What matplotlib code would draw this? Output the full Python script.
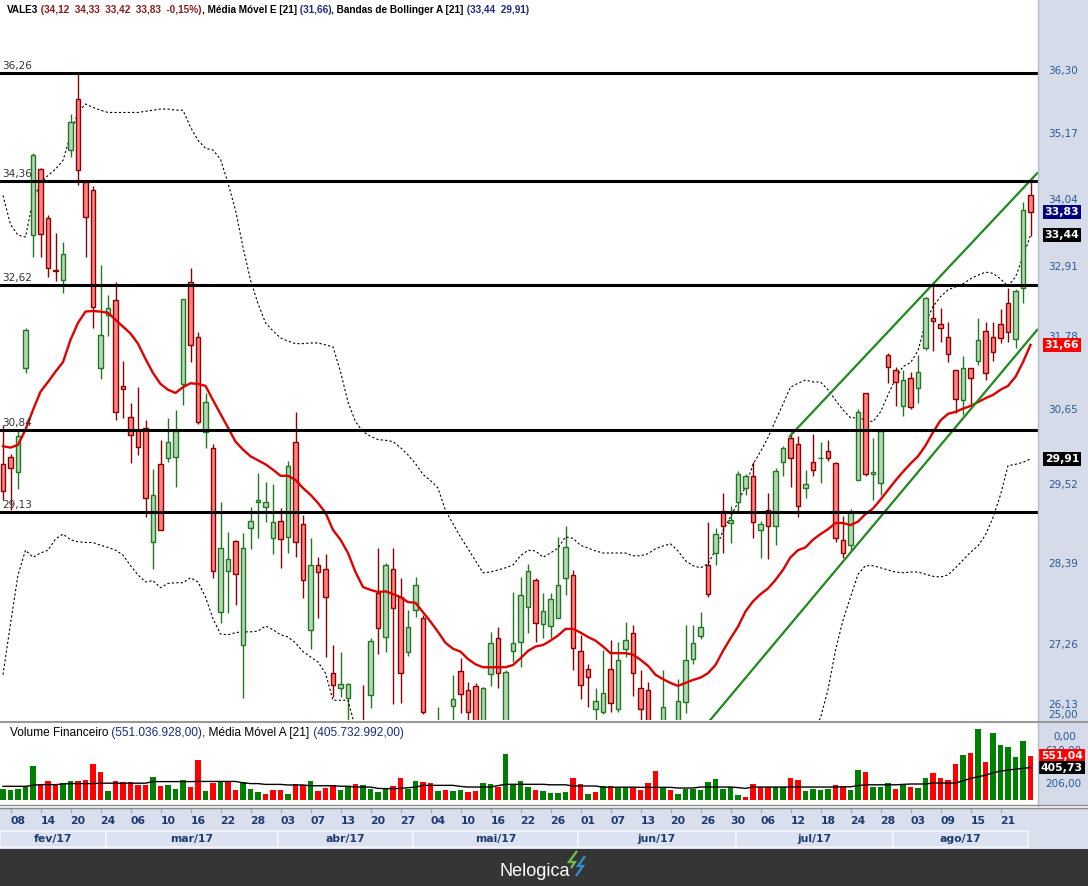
import numpy as np
import matplotlib
matplotlib.use("Agg")
import matplotlib.pyplot as plt
from matplotlib.patches import Rectangle, Polygon
from matplotlib.lines import Line2D
import matplotlib.transforms as mtransforms

nan = float("nan")

# -----------------------------
# dados (VALE3, diário, 06/fev/17 a 24/ago/17)
# -----------------------------
opens = [29.83, 29.94, 29.72, 31.29, 33.44, 34.56, 33.72, 32.86, 32.70, 34.89,
         35.79, 34.33, 34.20, 31.30, 32.13, 32.38, 31.02, 30.54, 30.35, 30.38,
         28.69, 29.84, 29.93, 29.94, 31.05, 32.67, 31.79, 30.32, 30.07, 27.71,
         28.29, 28.71, 27.26, 28.90, 29.28, 29.20, 28.76, 29.00, 28.77, 30.17,
         28.95, 27.47, 28.37, 28.31, 26.88, 26.68, 26.55, 26.20, 26.22, 26.59,
         27.97, 27.37, 28.31, 27.92, 27.16, 27.74, 27.63, 26.20, 25.95, 26.15,
         26.44, 26.91, 26.66, 26.71, 26.15, 26.87, 27.36, 26.15, 27.18, 27.30,
         27.78, 28.16, 27.55, 27.52, 27.63, 28.19, 28.23, 27.18, 26.93, 26.40,
         26.37, 26.93, 26.40, 27.21, 27.43, 26.68, 26.66, 26.15, 26.00, 26.20,
         26.00, 26.50, 27.07, 27.38, 28.37, 28.54, 29.15, 28.97, 29.28, 29.48,
         29.65, 28.87, 29.16, 28.93, 29.87, 30.22, 30.13, 29.48, 29.87, 29.93,
         30.03, 29.85, 28.73, 28.65, 29.60, 30.91, 29.69, 29.56, 31.50, 31.26,
         30.71, 31.14, 30.99, 31.61, 32.09, 31.99, 31.79, 31.27, 30.80, 31.30,
         31.41, 31.88, 31.79, 31.99, 32.33, 31.76, 32.57, 34.12]
highs = [30.42, 29.99, 30.35, 31.93, 34.83, 34.58, 33.77, 33.47, 33.33, 35.52,
         36.26, 34.37, 34.27, 32.95, 32.46, 32.67, 31.41, 30.76, 31.00, 30.50,
         29.76, 30.19, 30.53, 30.65, 32.40, 32.89, 31.87, 30.91, 30.14, 29.28,
         28.84, 28.73, 28.83, 29.20, 29.70, 29.57, 29.54, 29.19, 29.88, 30.62,
         29.09, 28.76, 28.49, 28.52, 27.26, 27.17, 26.75, 26.24, 26.72, 27.35,
         28.61, 28.40, 28.61, 28.19, 27.74, 28.20, 27.67, 26.24, 26.43, 26.22,
         26.85, 27.09, 26.76, 26.75, 26.70, 27.44, 27.51, 26.92, 27.99, 28.20,
         28.38, 28.19, 27.97, 27.98, 28.77, 28.93, 28.30, 27.40, 27.01, 26.68,
         27.19, 27.33, 27.30, 27.58, 27.53, 26.92, 26.76, 26.20, 26.92, 26.24,
         26.80, 27.53, 27.53, 27.71, 28.98, 28.90, 29.40, 29.21, 29.73, 29.68,
         29.87, 29.00, 29.40, 29.78, 30.11, 30.31, 30.26, 29.75, 30.29, 30.16,
         30.19, 29.86, 29.07, 29.18, 30.66, 30.91, 30.23, 30.33, 31.53, 31.32,
         31.26, 31.24, 31.50, 32.43, 32.64, 32.25, 32.03, 31.27, 31.48, 31.30,
         32.08, 32.03, 32.03, 32.23, 32.57, 32.55, 34.00, 34.33]
lows = [29.31, 29.16, 29.47, 31.22, 33.08, 33.08, 32.75, 32.68, 32.49, 34.77,
        34.28, 33.08, 31.92, 31.13, 31.80, 30.50, 30.53, 29.85, 29.97, 29.05,
        28.31, 28.87, 29.87, 29.50, 30.73, 31.39, 30.44, 30.08, 28.19, 27.56,
        27.70, 27.81, 26.55, 28.60, 28.76, 28.98, 28.52, 28.33, 28.54, 28.49,
        27.91, 27.20, 27.63, 27.10, 26.56, 26.56, 26.20, 25.90, 25.95, 26.42,
        27.14, 27.16, 26.47, 26.49, 27.11, 27.64, 26.34, 25.85, 25.85, 25.90,
        26.20, 26.35, 26.23, 26.00, 26.00, 26.71, 26.68, 26.00, 27.03, 26.96,
        27.43, 27.30, 27.36, 27.36, 27.63, 27.95, 26.92, 26.53, 26.43, 26.20,
        26.34, 26.37, 26.37, 27.10, 26.57, 26.20, 25.95, 25.60, 25.90, 25.90,
        25.90, 26.35, 27.01, 27.34, 27.92, 28.37, 28.54, 28.68, 29.12, 29.38,
        28.76, 28.47, 28.45, 28.65, 29.66, 29.50, 29.05, 29.34, 29.66, 29.56,
        29.88, 28.69, 28.47, 28.58, 29.60, 29.66, 29.31, 29.38, 31.07, 30.71,
        30.55, 30.67, 30.76, 31.58, 31.56, 31.71, 31.39, 30.61, 30.58, 30.74,
        31.34, 31.11, 31.41, 31.69, 31.71, 31.61, 32.33, 33.42]
closes = [29.43, 29.78, 30.25, 31.90, 34.80, 33.46, 32.89, 32.85, 33.13, 35.38,
          34.55, 33.74, 32.27, 31.82, 32.25, 30.62, 30.97, 30.27, 30.09, 29.33,
          29.37, 28.87, 30.17, 30.33, 32.40, 31.66, 30.47, 30.77, 28.29, 28.61,
          28.46, 28.24, 28.61, 29.00, 29.30, 29.28, 28.99, 28.74, 29.81, 28.69,
          28.16, 28.37, 28.27, 27.92, 26.72, 26.73, 26.74, 26.05, 26.10, 27.31,
          27.49, 28.37, 27.77, 26.88, 27.51, 28.09, 26.37, 25.95, 26.15, 26.00,
          26.54, 26.60, 26.37, 26.15, 26.68, 27.29, 26.88, 26.89, 27.29, 27.95,
          28.29, 27.56, 27.73, 27.89, 28.09, 28.62, 27.22, 26.72, 26.83, 26.51,
          26.62, 26.49, 27.06, 27.33, 26.88, 26.41, 26.10, 25.80, 26.43, 26.05,
          26.51, 27.06, 27.29, 27.51, 27.96, 28.81, 28.93, 29.02, 29.68, 29.65,
          28.98, 28.95, 28.93, 29.73, 30.07, 29.93, 29.21, 29.54, 29.74, 29.93,
          29.93, 28.76, 28.54, 29.13, 30.62, 29.69, 29.72, 30.33, 31.32, 31.08,
          31.11, 30.70, 31.24, 32.41, 32.04, 31.93, 31.52, 30.82, 31.30, 31.14,
          31.73, 31.22, 31.55, 31.77, 31.87, 32.52, 33.86, 33.83]

# média móvel exponencial 21
ema21 = [30.10, 30.08, 30.12, 30.35, 30.65, 30.93, 31.08, 31.24, 31.39, 31.74,
         32.01, 32.19, 32.20, 32.19, 32.17, 32.06, 31.95, 31.84, 31.68, 31.44,
         31.22, 31.05, 30.96, 30.91, 31.00, 31.06, 31.05, 31.02, 30.80, 30.59,
         30.38, 30.17, 30.05, 29.95, 29.89, 29.83, 29.75, 29.66, 29.66, 29.60,
         29.48, 29.38, 29.26, 29.12, 28.87, 28.73, 28.54, 28.27, 28.06, 28.02,
         27.99, 28.00, 27.96, 27.92, 27.85, 27.84, 27.71, 27.58, 27.44, 27.29,
         27.21, 27.17, 27.07, 27.00, 26.96, 26.96, 26.96, 26.96, 26.99, 27.08,
         27.18, 27.24, 27.26, 27.32, 27.39, 27.48, 27.48, 27.43, 27.37, 27.32,
         27.24, 27.15, 27.15, 27.15, 27.13, 27.06, 26.98, 26.86, 26.80, 26.75,
         26.71, 26.75, 26.79, 26.82, 26.88, 26.99, 27.18, 27.35, 27.51, 27.72,
         27.86, 27.96, 28.04, 28.16, 28.30, 28.48, 28.58, 28.62, 28.73, 28.81,
         28.88, 28.97, 28.97, 28.94, 28.99, 29.10, 29.18, 29.31, 29.45, 29.59,
         29.72, 29.84, 29.95, 30.11, 30.31, 30.49, 30.59, 30.62, 30.67, 30.71,
         30.77, 30.83, 30.88, 30.96, 31.02, 31.16, 31.39, 31.66]

# bandas de Bollinger 21
bb_upper = [34.11, 33.62, 33.44, 33.41, 34.03, 34.32, 34.45, 34.56, 34.71, 35.15,
            35.55, 35.70, 35.64, 35.59, 35.55, 35.55, 35.55, 35.55, 35.55, 35.57,
            35.59, 35.61, 35.61, 35.59, 35.59, 35.29, 35.06, 34.92, 34.89, 34.73,
            34.32, 33.86, 33.24, 32.70, 32.32, 32.01, 31.88, 31.77, 31.72, 31.68,
            31.68, 31.69, 31.69, 31.66, 31.63, 31.24, 30.77, 30.47, 30.32, 30.25,
            30.20, 30.19, 30.17, 30.08, 29.97, 29.84, 29.68, 29.59, 29.48, 29.15,
            28.96, 28.77, 28.60, 28.43, 28.26, 28.27, 28.30, 28.33, 28.37, 28.50,
            28.58, 28.57, 28.48, 28.54, 28.61, 28.77, 28.75, 28.65, 28.61, 28.57,
            28.54, 28.54, 28.54, 28.54, 28.50, 28.50, 28.53, 28.60, 28.64, 28.67,
            28.57, 28.43, 28.36, 28.33, 28.39, 28.58, 28.86, 29.06, 29.27, 29.50,
            29.83, 30.02, 30.23, 30.49, 30.74, 31.00, 31.06, 31.11, 31.08, 31.08,
            30.96, 30.80, 30.65, 30.53, 30.53, 30.50, 30.47, 30.62, 30.88, 31.13,
            31.32, 31.38, 31.57, 32.01, 32.27, 32.43, 32.54, 32.59, 32.64, 32.72,
            32.78, 32.83, 32.81, 32.72, 32.60, 32.75, 33.08, 33.44]
bb_lower = [26.86, 27.55, 28.23, 28.58, 28.48, 28.54, 28.58, 28.74, 28.81, 28.73,
            28.70, 28.69, 28.69, 28.65, 28.62, 28.58, 28.51, 28.36, 28.23, 28.13,
            28.15, 28.05, 28.11, 28.12, 28.12, 28.19, 28.13, 27.92, 27.62, 27.41,
            27.40, 27.43, 27.44, 27.44, 27.45, 27.52, 27.47, 27.40, 27.37, 27.29,
            27.17, 27.10, 27.03, 26.88, 26.52, 26.52, 26.52, 26.15, nan, nan,
            nan, nan, nan, nan, nan, nan, nan, nan, nan, nan,
            nan, nan, nan, nan, nan, nan, nan, nan, nan, nan,
            nan, nan, nan, nan, nan, nan, nan, nan, nan, nan,
            nan, nan, nan, nan, nan, nan, nan, nan, nan, nan,
            nan, nan, nan, nan, nan, nan, nan, nan, nan, nan,
            nan, nan, nan, nan, nan, nan, nan, nan, 26.10, 26.29,
            26.66, 27.19, 27.60, 27.92, 28.24, 28.36, 28.36, 28.33, 28.30, 28.27,
            28.26, 28.27, 28.27, 28.24, 28.21, 28.20, 28.23, 28.33, 28.44, 28.55,
            28.64, 28.80, 29.05, 29.38, 29.81, 29.83, 29.86, 29.91]

# volume financeiro (milhões de R$) e média móvel aritmética 21
volume = [141, 129, 141, 171, 425, 183, 237, 196, 212, 237,
          237, 254, 454, 350, 112, 237, 225, 225, 192, 192,
          287, 175, 192, 142, 250, 162, 496, 112, 212, 233,
          233, 129, 221, 142, 100, 79, 125, 125, 75, 200,
          183, 233, 112, 150, 187, 125, 166, 204, 192, 142,
          100, 142, 175, 275, 142, 237, 225, 212, 112, 125,
          112, 125, 100, 112, 212, 204, 158, 575, 183, 237,
          162, 125, 112, 88, 92, 100, 275, 204, 75, 100,
          175, 175, 150, 150, 150, 125, 212, 362, 162, 125,
          75, 142, 142, 129, 222, 267, 142, 158, 67, 37,
          204, 158, 158, 158, 158, 275, 254, 112, 142, 129,
          142, 192, 158, 125, 379, 350, 162, 162, 212, 142,
          200, 167, 150, 275, 342, 275, 254, 450, 567, 587,
          892, 475, 842, 692, 667, 542, 737, 551.04]
vol_up = [1, 1, 1, 1, 1, 0, 0, 0, 1, 1,
          0, 0, 0, 0, 1, 0, 0, 0, 0, 0,
          1, 0, 1, 1, 1, 0, 0, 1, 0, 1,
          0, 0, 1, 1, 1, 0, 0, 0, 1, 0,
          0, 1, 0, 0, 0, 1, 1, 0, 1, 1,
          1, 1, 0, 0, 1, 1, 0, 0, 1, 0,
          1, 1, 0, 0, 1, 1, 0, 1, 1, 1,
          1, 0, 1, 1, 1, 1, 0, 0, 1, 0,
          1, 0, 1, 1, 0, 0, 0, 0, 1, 0,
          1, 1, 1, 1, 1, 1, 1, 1, 1, 0,
          0, 0, 0, 1, 1, 0, 0, 1, 1, 1,
          1, 0, 0, 1, 1, 0, 1, 1, 1, 0,
          1, 0, 1, 1, 0, 0, 0, 0, 1, 0,
          1, 0, 1, 1, 1, 1, 1, 0]
vol_ma = [171, 171, 171, 171, 185, 192, 192, 192, 200, 205,
          205, 205, 205, 210, 210, 210, 210, 210, 210, 210,
          230, 230, 230, 230, 230, 230, 232, 232, 232, 232,
          232, 232, 215, 205, 205, 195, 195, 195, 188, 188,
          188, 178, 178, 178, 178, 172, 172, 162, 162, 162,
          145, 142, 142, 145, 154, 160, 183, 183, 183, 183,
          183, 170, 162, 162, 162, 162, 180, 196, 196, 196,
          196, 196, 196, 190, 190, 190, 175, 175, 175, 175,
          160, 160, 160, 160, 160, 158, 158, 158, 158, 158,
          150, 150, 150, 162, 162, 162, 162, 162, 155, 145,
          162, 162, 162, 162, 162, 162, 162, 162, 162, 162,
          162, 162, 165, 165, 180, 190, 190, 190, 190, 190,
          195, 200, 200, 200, 212, 212, 212, 212, 240, 270,
          290, 310, 340, 360, 375, 385, 395, 405.73]

# linhas horizontais (suporte/resistência) e canal de alta
level_values = [36.26, 34.36, 32.62, 30.35, 29.13]
level_labels = ["36,26", "34,36", "32,62", "30,84", "29,13"]
channel_top = ([104.9, 137.9], [30.25, 34.49])
channel_bottom = ([94.3, 137.9], [26.26, 31.90])

price_ticks = [36.30, 35.17, 34.04, 32.91, 31.78, 30.65, 29.52, 28.39, 27.26]

day_labels = ["08", "14", "20", "24", "06", "10", "16", "22", "28", "03", "07", "13",
              "20", "27", "04", "10", "16", "22", "26", "01", "07", "13", "20", "26",
              "30", "06", "12", "18", "24", "28", "03", "09", "15", "21"]
day_index = [2 + 4 * k for k in range(len(day_labels))]
month_labels = ["fev/17", "mar/17", "abr/17", "mai/17", "jun/17", "jul/17", "ago/17"]
month_starts = [0, 15, 38, 56, 78, 99, 120, 138]

# -----------------------------
# figura
# -----------------------------
W, H = 1088, 886
fig = plt.figure(figsize=(W / 100, H / 100), dpi=100)
fig.patch.set_facecolor("white")

BLUE_LBL = "#2a5a98"
PANEL = "#d6dbe9"


def px_axes(x0, y0, x1, y1):
    a = fig.add_axes([x0 / W, 1 - y1 / H, (x1 - x0) / W, (y1 - y0) / H])
    a.axis("off")
    return a


def fig_rect(x0, y0, x1, y1, color, z=-1, ec="none", lw=0):
    fig.add_artist(Rectangle((x0 / W, 1 - y1 / H), (x1 - x0) / W, (y1 - y0) / H,
                             transform=fig.transFigure, facecolor=color,
                             edgecolor=ec, lw=lw, zorder=z))


def fig_hline(y, x0, x1, color, lw, z=5):
    fig.add_artist(Line2D([x0 / W, x1 / W], [1 - y / H, 1 - y / H],
                          transform=fig.transFigure, color=color, lw=lw, zorder=z))


def parts_text(x_px, y_px, parts, size, weight, target_w, family="Liberation Sans"):
    r = fig.canvas.get_renderer()

    def place(sz):
        out, x = [], x_px
        for s, col in parts:
            t = fig.text(x / W, 1 - y_px / H, s, color=col, fontsize=sz,
                         fontweight=weight, family=family, va="center", ha="left")
            x += t.get_window_extent(renderer=r).width
            out.append(t)
        return out, x - x_px

    texts, w = place(size)
    for t in texts:
        t.remove()
    place(min(size * target_w / w, 8.6))


# fundos
fig_rect(1038, 0, 1088, 806, PANEL)
fig_rect(0, 808, 1088, 849, "#dadfed")
fig_rect(0, 849, 1088, 886, "#353535", z=1)
fig.add_artist(Line2D([1038 / W, 1038 / W], [1 - 806 / H, 1], transform=fig.transFigure,
                      color="#b4bcd0", lw=1, zorder=5))

idx = np.arange(len(closes))
o, h, l, c = (np.array(v) for v in (opens, highs, lows, closes))
up = c >= o

# -----------------------------
# painel de preço
# -----------------------------
ax = px_axes(0, 0, 1038, 720)
ax.set_yscale("log")
ax.set_xlim(-0.4, 138.0)
ax.set_ylim(26.26, 37.60)

edge = np.where(up, "#1f7a1f", "#8b0000")
fill = np.where(up, "#b9d5b9", "#ff8282")
ax.vlines(idx, l, h, colors=edge, lw=1, zorder=2)
body_lo = np.minimum(o, c)
body_hi = np.maximum(o, c)
ax.bar(idx, body_hi - body_lo, bottom=body_lo, width=0.62, color=fill,
       edgecolor=edge, linewidth=1, zorder=3)

ax.plot(idx, bb_upper, color="black", lw=0.8, ls=(0, (2, 2)), zorder=2)
ax.plot(idx, bb_lower, color="black", lw=0.8, ls=(0, (2, 2)), zorder=2)
ax.plot(idx, ema21, color="#e00000", lw=1.7, zorder=4)
ax.plot(*channel_top, color="#1d8a1d", lw=1.6, zorder=4)
ax.plot(*channel_bottom, color="#1d8a1d", lw=1.6, zorder=4)

lvl_tr = mtransforms.blended_transform_factory(ax.transAxes, ax.transData)
for v, lab in zip(level_values, level_labels):
    ax.axhline(v, color="black", lw=2.2, zorder=5)
    ax.text(0.002, v * 1.0008, lab, transform=lvl_tr, fontsize=7.5, color="#333333",
            va="bottom", ha="left", family="DejaVu Sans", zorder=6)

# eixo direito
for v in price_ticks:
    ax.text(1063 / 1038, v, f"{v:.2f}".replace(".", ","), transform=lvl_tr,
            fontsize=7.5, color=BLUE_LBL, ha="center", va="center", clip_on=False)
ax.text(1063 / 1038, (720 - 705) / 720, "26,13", transform=ax.transAxes, fontsize=7.5,
        color=BLUE_LBL, ha="center", va="center", clip_on=False)
ax.text(1063 / 1038, (720 - 715) / 720, "25,00", transform=ax.transAxes, fontsize=7.5,
        color=BLUE_LBL, ha="center", va="center", clip_on=False)


def value_box(a, tr, y, text, bg):
    a.text(1062 / 1038, y, text, transform=tr, fontsize=7.8, fontweight="bold",
           color="white", ha="center", va="center", clip_on=False, zorder=10,
           bbox=dict(boxstyle="square,pad=0.16", fc=bg, ec="none"))


value_box(ax, lvl_tr, closes[-1], "33,83", "#000080")
value_box(ax, lvl_tr, bb_upper[-1], "33,44", "black")
value_box(ax, lvl_tr, ema21[-1], "31,66", "#ff0000")
value_box(ax, lvl_tr, bb_lower[-1], "29,91", "black")

# -----------------------------
# painel de volume
# -----------------------------
axv = px_axes(0, 724, 1038, 800)
axv.set_xlim(-0.4, 138.0)
axv.set_ylim(0, 950)
vol_col = np.where(np.array(vol_up) == 1, "#008000", "#ff0000")
axv.bar(idx, volume, width=0.78, color=vol_col, zorder=2)
axv.plot(idx, vol_ma, color="black", lw=1, zorder=3)

vtr = mtransforms.blended_transform_factory(axv.transAxes, axv.transData)
axv.text(1065 / 1038, (800 - 737) / 76, "0,00", transform=axv.transAxes, fontsize=7.5,
         color=BLUE_LBL, ha="center", va="center", clip_on=False)
axv.text(1063 / 1038, 610, "610,00", transform=vtr, fontsize=7.5, color=BLUE_LBL,
         ha="center", va="center", clip_on=False)
axv.text(1063 / 1038, 206, "206,00", transform=vtr, fontsize=7.5, color=BLUE_LBL,
         ha="center", va="center", clip_on=False)
value_box(axv, vtr, volume[-1], "551,04", "#ff0000")
value_box(axv, vtr, vol_ma[-1], "405,73", "black")

# separadores
fig_hline(721.5, 0, 1088, "#9a9a9a", 1.5)
fig_hline(805, 0, 1088, "#8c8c8c", 1)
fig_hline(808, 0, 1088, "#8c8c8c", 1)

# -----------------------------
# eixo de datas
# -----------------------------
axd = px_axes(0, 809, 1038, 848)
axd.set_xlim(-0.4, 138.0)
axd.set_ylim(0, 1)
for i, lab in zip(day_index, day_labels):
    axd.text(i, 0.70, lab, fontsize=7.8, fontweight="bold", color="#1c3a72",
             ha="center", va="center", family="DejaVu Sans")
    axd.plot([i - 0.9, i - 0.9], [0.92, 1.0], color="#9aa3b8", lw=0.8)
for k, lab in enumerate(month_labels):
    x0 = max(month_starts[k] - 1.33, -0.4)
    x1 = month_starts[k + 1] - 1.33
    axd.add_patch(Rectangle((x0, 0.02), x1 - x0, 0.41, facecolor="#dde2f0",
                            edgecolor="#f4f6fb", lw=1.2))
    axd.text((x0 + x1) / 2, 0.22, lab, fontsize=7.8, fontweight="bold", color="#1c3a72",
             ha="center", va="center", family="DejaVu Sans")

# -----------------------------
# títulos
# -----------------------------
DRED = "#8b1a1a"
NAVY = "#1a2a80"
parts_text(7, 10, [("VALE3", "black"),
                   (" (34,12  34,33  33,42  33,83  -0,15%)", DRED),
                   (", Média Móvel E [21]", "black"),
                   (" (31,66)", NAVY),
                   (", Bandas de Bollinger A [21]", "black"),
                   (" (33,44  29,91)", NAVY)], 8, "bold", 523)
parts_text(10, 733, [("Volume Financeiro", "black"),
                     (" (551.036.928,00)", NAVY),
                     (", Média Móvel A [21]", "black"),
                     (" (405.732.992,00)", NAVY)], 8, "normal", 410)

# rodapé
fig.text(535 / W, 1 - 872 / H, "Nelogica", color="white", fontsize=13,
         family="Liberation Sans", ha="center", va="center", zorder=6)
fig.add_artist(Polygon([(577 / W, 1 - 851 / H), (569 / W, 1 - 862 / H), (575 / W, 1 - 862 / H),
                        (571 / W, 1 - 868 / H)], closed=False, fill=False,
                       edgecolor="#6cc04a", lw=1.6, transform=fig.transFigure, zorder=6))
fig.add_artist(Polygon([(585 / W, 1 - 856 / H), (578 / W, 1 - 866 / H), (583 / W, 1 - 866 / H),
                        (576 / W, 1 - 876 / H)], closed=False, fill=False,
                       edgecolor="#2d8fd5", lw=1.6, transform=fig.transFigure, zorder=6))

fig.savefig("out.png", dpi=100)
